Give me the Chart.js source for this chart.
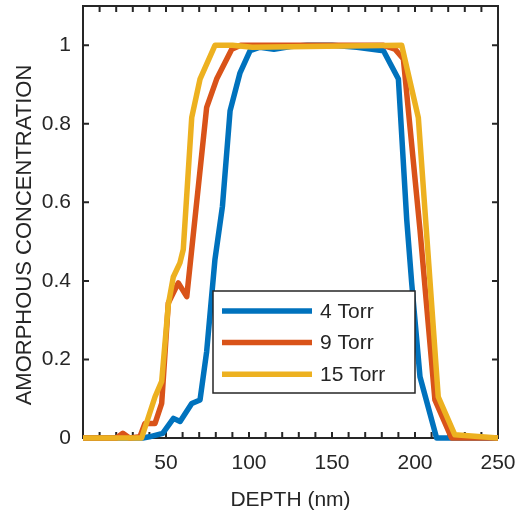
<!DOCTYPE html>
<html>
<head>
<meta charset="utf-8">
<script src="https://cdn.jsdelivr.net/npm/chart.js@4/dist/chart.umd.min.js"></script>
<style>
  html, body { margin: 0; padding: 0; background: #fff; }
  canvas { display: block; }
</style>
</head>
<body>
<canvas id="depthChart" width="527" height="517"></canvas>
<script>
const seriesLabels = ['4 Torr', '9 Torr', '15 Torr'];
const seriesColors = ['#0072BD', '#D95319', '#EDB120'];

const depth4 = [0, 36, 40, 48, 54.5, 58.5, 65.5, 70.5, 74.5, 79.5, 84, 88.6, 94.6, 100.6, 106.6, 115, 125, 135, 150, 165, 181, 190, 195, 198, 203, 213, 250];
const conc4 = [0, 0, 0.003, 0.012, 0.05, 0.042, 0.088, 0.097, 0.22, 0.455, 0.59, 0.833, 0.93, 0.986, 0.995, 0.99, 0.997, 1, 1, 0.995, 0.986, 0.914, 0.557, 0.395, 0.156, 0, 0];

const depth9 = [0, 20, 24, 28, 34.3, 37.3, 43.4, 47.4, 51.4, 57.4, 62.5, 74.5, 80.5, 89.6, 95, 181, 188, 193, 203, 212, 222, 250];
const conc9 = [0, 0, 0.012, 0, 0.003, 0.037, 0.037, 0.088, 0.344, 0.395, 0.36, 0.842, 0.914, 0.99, 1, 1, 0.99, 0.965, 0.53, 0.097, 0, 0];

const depth15 = [0, 35.3, 43.4, 47.4, 51.4, 54.4, 58.4, 60.4, 65.5, 70.5, 79.5, 90, 102, 192, 202, 214, 224, 250];
const conc15 = [0, 0, 0.105, 0.144, 0.34, 0.41, 0.446, 0.48, 0.816, 0.914, 1.0, 1.0, 0.995, 1.0, 0.816, 0.105, 0.008, 0];

const xTicks = [0, 10, 20, 30, 40, 50, 60, 70, 80, 90, 100, 110, 120, 130, 140, 150, 160, 170, 180, 190, 200, 210, 220, 230, 240, 250];
const xLabeled = [50, 100, 150, 200, 250];
const yTicks = [0, 0.2, 0.4, 0.6, 0.8, 1];
const yTitle = 'AMORPHOUS CONCENTRATION';

const axisColor = '#262626';
const fontFamily = '"Liberation Sans", Arial, Helvetica, sans-serif';

function toPoints(xs, ys) {
  return xs.map((x, i) => ({ x: x, y: ys[i] }));
}

// box, inside ticks on all four sides (matlab style)
const framePlugin = {
  id: 'frame',
  beforeDatasetsDraw(chart) {
    const { ctx, chartArea: a, scales } = chart;
    const len = 6;
    ctx.save();
    ctx.strokeStyle = axisColor;
    ctx.lineWidth = 2;
    ctx.strokeRect(a.left, a.top, a.right - a.left, a.bottom - a.top);
    ctx.beginPath();
    xTicks.forEach(v => {
      const px = scales.x.getPixelForValue(v);
      ctx.moveTo(px, a.bottom); ctx.lineTo(px, a.bottom - len);
      ctx.moveTo(px, a.top); ctx.lineTo(px, a.top + len);
    });
    yTicks.forEach(v => {
      const py = scales.y.getPixelForValue(v);
      ctx.moveTo(a.left, py); ctx.lineTo(a.left + len, py);
      ctx.moveTo(a.right, py); ctx.lineTo(a.right - len, py);
    });
    ctx.stroke();

    // y title sits a bit lower than the axis centre in the original
    ctx.translate(25, 235);
    ctx.rotate(-Math.PI / 2);
    ctx.font = '22px ' + fontFamily;
    ctx.fillStyle = axisColor;
    ctx.textAlign = 'center';
    ctx.textBaseline = 'middle';
    ctx.fillText(yTitle, 0, 0);
    ctx.restore();
  }
};

const legendBoxPlugin = {
  id: 'legendBox',
  afterDatasetsDraw(chart) {
    const { ctx } = chart;
    const box = { x: 213, y: 291, w: 202, h: 102 };
    ctx.save();
    ctx.fillStyle = '#fff';
    ctx.fillRect(box.x, box.y, box.w, box.h);
    ctx.strokeStyle = axisColor;
    ctx.lineWidth = 1.5;
    ctx.strokeRect(box.x, box.y, box.w, box.h);
    ctx.font = '21px ' + fontFamily;
    ctx.textBaseline = 'middle';
    chart.data.datasets.forEach((ds, i) => {
      const rowY = 311 + i * 31.6;
      ctx.strokeStyle = ds.borderColor;
      ctx.lineWidth = 5.5;
      ctx.beginPath();
      ctx.moveTo(222, rowY);
      ctx.lineTo(312, rowY);
      ctx.stroke();
      ctx.fillStyle = axisColor;
      ctx.fillText(ds.label, 320, rowY + 1);
    });
    ctx.restore();
  }
};

const datasets = [
  { label: seriesLabels[0], data: toPoints(depth4, conc4), borderColor: seriesColors[0], order: 3 },
  { label: seriesLabels[1], data: toPoints(depth9, conc9), borderColor: seriesColors[1], order: 2 },
  { label: seriesLabels[2], data: toPoints(depth15, conc15), borderColor: seriesColors[2], order: 1 }
].map(ds => Object.assign(ds, {
  borderWidth: 5.5,
  pointRadius: 0,
  tension: 0,
  fill: false,
  clip: false,
  borderJoinStyle: 'round'
}));

new Chart(document.getElementById('depthChart').getContext('2d'), {
  type: 'line',
  data: { datasets: datasets },
  options: {
    responsive: false,
    animation: false,
    devicePixelRatio: 1,
    layout: { padding: { top: 6, right: 29, left: 0, bottom: 0 } },
    plugins: {
      legend: { display: false },
      tooltip: { enabled: false }
    },
    scales: {
      x: {
        type: 'linear',
        min: 0,
        max: 250,
        grid: { display: false, drawTicks: false },
        border: { display: false },
        afterBuildTicks(scale) { scale.ticks = xTicks.map(v => ({ value: v })); },
        afterFit(scale) {
          scale.height = 79;
          scale.paddingLeft = 0;
          scale.paddingRight = 0;
        },
        ticks: {
          autoSkip: false,
          maxRotation: 0,
          padding: 13,
          color: axisColor,
          font: { family: fontFamily, size: 21 },
          callback: v => xLabeled.includes(v) ? String(v) : ''
        },
        title: {
          display: true,
          text: 'DEPTH (nm)',
          color: axisColor,
          font: { family: fontFamily, size: 21 },
          padding: { top: 0, bottom: 4 }
        }
      },
      y: {
        min: 0,
        max: 1.1,
        grid: { display: false, drawTicks: false },
        border: { display: false },
        afterBuildTicks(scale) { scale.ticks = yTicks.map(v => ({ value: v })); },
        afterFit(scale) {
          scale.width = 83;
          scale.paddingTop = 0;
          scale.paddingBottom = 0;
        },
        ticks: {
          padding: 12,
          color: axisColor,
          font: { family: fontFamily, size: 21 },
          callback: v => String(Math.round(v * 10) / 10)
        }
      }
    }
  },
  plugins: [framePlugin, legendBoxPlugin]
});
</script>
</body>
</html>
